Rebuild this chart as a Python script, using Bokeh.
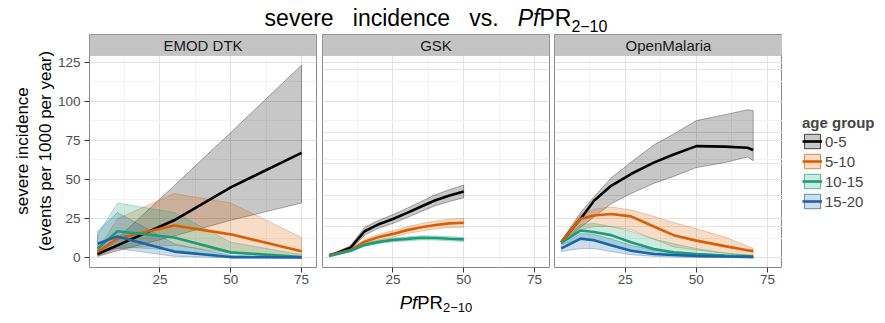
from bokeh.plotting import figure
from bokeh.layouts import row, column
from bokeh.models import (FixedTicker, BoxAnnotation, Label, Legend, LegendItem,
                          Range1d, Grid)
from bokeh.embed import file_html
from bokeh.resources import INLINE

# ---------------- data ----------------
AGE_GROUPS = ["0-5", "5-10", "10-15", "15-20"]
COLORS = ["#000000", "#D95F02", "#1B9E77", "#1C64AA"]
PANELS = ["EMOD DTK", "GSK", "OpenMalaria"]
X_TICKS = [25, 50, 75]
Y_TICKS = [0, 25, 50, 75, 100, 125]

EMOD_X = [3, 10, 30, 50, 75]
EMOD_0_5 = [2.5, 8, 24, 45, 67]
EMOD_0_5_LO = [1, 4.5, 14, 24, 35]
EMOD_0_5_HI = [3.5, 12.5, 46, 80, 123]
EMOD_5_10 = [4, 12.3, 20.7, 15, 4.2]
EMOD_5_10_LO = [1, 6, 8, 3, 0.5]
EMOD_5_10_HI = [5, 25, 41, 35, 13]
EMOD_10_15 = [6, 17, 13, 3.5, 0.5]
EMOD_10_15_LO = [2, 7, 5, 0.5, 0]
EMOD_10_15_HI = [15, 35, 29, 10, 2]
EMOD_15_20 = [9, 13.7, 4, 0.5, 0.3]
EMOD_15_20_LO = [4, 6, 1, 0, 0]
EMOD_15_20_HI = [17, 29, 9, 1.5, 0.8]

GSK_X = [2.5, 5, 10, 15, 20, 25, 30, 35, 40, 45, 50]
GSK_0_5 = [1.7, 3, 6.5, 17, 21.5, 24.8, 28.7, 32.8, 36.8, 39.8, 42.4]
GSK_0_5_LO = [1.2, 2.3, 5.3, 14.5, 19, 22, 25.7, 29.6, 33.3, 36, 38.4]
GSK_0_5_HI = [2.2, 3.7, 7.7, 19.5, 24, 27.6, 31.7, 36, 40.3, 43.6, 46.4]
GSK_5_10 = [1.7, 2.8, 5, 10.3, 13.3, 15.3, 17.7, 19.5, 21, 22, 22.4]
GSK_5_10_LO = [1.3, 2.3, 4.2, 8.8, 11.5, 13.3, 15.5, 17.1, 18.5, 19.3, 19.6]
GSK_5_10_HI = [2.1, 3.3, 5.8, 11.8, 15.1, 17.3, 19.9, 21.9, 23.5, 24.7, 25.2]
GSK_10_15 = [1.2, 2.3, 4.5, 8.3, 10.2, 11.5, 12.1, 12.8, 12.7, 12.2, 11.8]
GSK_10_15_LO = [0.9, 1.9, 3.9, 7.3, 9.1, 10.3, 10.8, 11.5, 11.4, 10.9, 10.5]
GSK_10_15_HI = [1.5, 2.7, 5.1, 9.3, 11.3, 12.7, 13.4, 14.1, 14, 13.5, 13.1]

OM_X = [2.5, 9.3, 14, 20, 27, 35, 42, 50, 60, 68, 70]
OM_0_5 = [10, 25, 36.5, 46, 53.5, 60.8, 66, 71.3, 71, 70.3, 68.8]
OM_0_5_LO = [9, 19.6, 26, 34.5, 41, 47.5, 52, 57.6, 60.8, 64.4, 62]
OM_0_5_HI = [11, 29, 39, 51, 61, 72, 79, 87.6, 91.4, 94.5, 94]
OM_5_10 = [10, 25, 27, 28, 26.5, 20, 14.5, 11, 7.5, 4.8, 4.3]
OM_5_10_LO = [9, 18, 20, 20, 18, 12, 7, 5, 3, 2, 2]
OM_5_10_HI = [10.5, 27.5, 31, 32.5, 30.5, 26.5, 22.5, 18.6, 13.3, 7.5, 6]
OM_10_15 = [9.5, 17.5, 16.5, 14.5, 10, 5.7, 3.5, 2.4, 1.5, 1, 0.8]
OM_10_15_LO = [8.5, 12, 11, 8, 5, 2.5, 1.5, 1, 0.5, 0.3, 0.3]
OM_10_15_HI = [10.5, 21, 22, 20, 17, 12, 9, 6, 3, 1.8, 1.5]
OM_15_20 = [6, 12.3, 11.2, 8, 4.5, 2.5, 1.8, 1.3, 0.9, 0.6, 0.5]
OM_15_20_LO = [4, 6, 6, 4, 2, 1, 0.5, 0.3, 0.2, 0.1, 0.1]
OM_15_20_HI = [8, 15.5, 15, 12, 8, 5, 3.5, 2.5, 1.5, 1, 1]

SERIES = {
    "EMOD DTK": (EMOD_X, [(EMOD_0_5, EMOD_0_5_LO, EMOD_0_5_HI),
                          (EMOD_5_10, EMOD_5_10_LO, EMOD_5_10_HI),
                          (EMOD_10_15, EMOD_10_15_LO, EMOD_10_15_HI),
                          (EMOD_15_20, EMOD_15_20_LO, EMOD_15_20_HI)]),
    "GSK": (GSK_X, [(GSK_0_5, GSK_0_5_LO, GSK_0_5_HI),
                    (GSK_5_10, GSK_5_10_LO, GSK_5_10_HI),
                    (GSK_10_15, GSK_10_15_LO, GSK_10_15_HI),
                    None]),
    "OpenMalaria": (OM_X, [(OM_0_5, OM_0_5_LO, OM_0_5_HI),
                           (OM_5_10, OM_5_10_LO, OM_5_10_HI),
                           (OM_10_15, OM_10_15_LO, OM_10_15_HI),
                           (OM_15_20, OM_15_20_LO, OM_15_20_HI)]),
}

# ---------------- layout constants ----------------
FONT = "Liberation Sans"
W = 885
TITLE_H = 34            # page px above the panels
PANEL_H = 256           # panel figures: page y 34 .. 290
FRAME_H = 233           # frame: page y 34 .. 267
XTITLE_H = 323 - TITLE_H - PANEL_H
STRIP_PX = 21
X_LO, X_HI = 0.1, 80.3
Y_LO, Y_HI = -6.15, 129.15
PPU = (FRAME_H - STRIP_PX) / (Y_HI - Y_LO)
Y_END = Y_HI + STRIP_PX / PPU
BASELINE_FIX = 0.28     # svg alphabetic baseline correction (fraction of font size)
NB = "\u00a0"

ADV = {'s': .5, 'e': .556, 'v': .5, 'r': .333, 'i': .222, 'n': .556, 'c': .5,
       'd': .556, '.': .278, ' ': .278, NB: .278, 'P': .667, 'f': .278, 'R': .722,
       '2': .556, '1': .556, '0': .556, '\u2212': .584}


def tw(s, size):
    return sum(ADV[c] for c in s) * size


def hide_grids(f):
    for g in f.select(type=Grid):
        g.visible = False


def blank_fig(width, height, y_top, y_bottom, x_range=None, y_range=None, **kw):
    f = figure(width=width, height=height, output_backend="svg", toolbar_location=None,
               tools="", x_range=x_range or Range1d(0, width),
               y_range=y_range or Range1d(y_bottom, y_top),
               x_axis_location=None, y_axis_location=None, **kw)
    f.title.visible = False
    f.outline_line_color = None
    f.background_fill_color = "white"
    f.border_fill_color = "white"
    hide_grids(f)
    return f


def make_panel(name, width, left, right, first):
    p = figure(width=width, height=PANEL_H, output_backend="svg", toolbar_location=None,
               tools="", x_range=Range1d(X_LO, X_HI), y_range=Range1d(Y_LO, Y_END),
               min_border_left=left, min_border_right=right,
               min_border_top=0, min_border_bottom=PANEL_H - FRAME_H,
               y_axis_location="left" if first else None)
    p.title.visible = False
    p.background_fill_color = "white"
    p.border_fill_color = "white"
    p.outline_line_color = "#8a8a8a"
    p.outline_line_width = 1

    xa = p.xaxis[0]
    xa.ticker = FixedTicker(ticks=X_TICKS, minor_ticks=[12.5, 37.5, 62.5])
    xa.axis_line_color = None
    xa.major_tick_in = 0
    xa.major_tick_out = 5
    xa.minor_tick_out = 0
    xa.minor_tick_in = 0
    xa.major_tick_line_color = "#333333"
    xa.major_label_text_font = FONT
    xa.major_label_text_font_size = "13.5px"
    xa.major_label_text_color = "#4d4d4d"
    xa.major_label_standoff = 2
    p.xgrid.grid_line_color = "#e2e2e2"
    p.xgrid.minor_grid_line_color = "#f3f3f3"

    ygrid = Grid(dimension=1, ticker=FixedTicker(ticks=Y_TICKS,
                                                 minor_ticks=[12.5, 37.5, 62.5, 87.5, 112.5]))
    ygrid.grid_line_color = "#e2e2e2"
    ygrid.minor_grid_line_color = "#f3f3f3"
    p.add_layout(ygrid)

    if first:
        ya = p.yaxis[0]
        ya.ticker = FixedTicker(ticks=Y_TICKS)
        ya.axis_line_color = None
        ya.major_tick_in = 0
        ya.major_tick_out = 5
        ya.minor_tick_out = 0
        ya.minor_tick_in = 0
        ya.major_tick_line_color = "#333333"
        ya.major_label_text_font = FONT
        ya.major_label_text_font_size = "13.5px"
        ya.major_label_text_color = "#4d4d4d"
        ya.major_label_standoff = 4
        ya.axis_label = "severe incidence\n(events per 1000 per year)"
        ya.axis_label_text_font = FONT
        ya.axis_label_text_font_size = "17px"
        ya.axis_label_text_font_style = "normal"
        ya.axis_label_text_color = "#000000"
        ya.axis_label_standoff = 0

    xs, groups = SERIES[name]
    for g, col in zip(groups, COLORS):
        if g is None:
            continue
        mid, lo, hi = g
        p.patch(list(xs) + list(xs)[::-1], list(hi) + list(lo)[::-1],
                fill_color=col, fill_alpha=0.22, line_color=col,
                line_alpha=0.45, line_width=0.7)
    for g, col in zip(groups, COLORS):
        if g is None:
            continue
        mid, lo, hi = g
        p.line(xs, mid, line_color=col, line_width=2.6)

    strip = BoxAnnotation(bottom=Y_HI, fill_color="#c4c4c4", fill_alpha=1,
                          line_color="#8a8a8a", line_width=1, level="overlay")
    p.add_layout(strip)
    p.add_layout(Label(x=(X_LO + X_HI) / 2, y=Y_END - (STRIP_PX / 2 + 0.5) / PPU,
                       text=name, text_font=FONT, text_font_size="15px",
                       text_color="#1a1a1a", text_align="center",
                       text_baseline="middle", level="overlay"))
    return p


p1 = make_panel("EMOD DTK", 319, 89, 3, True)
p2 = make_panel("GSK", 232, 3, 2, False)
p3 = make_panel("OpenMalaria", 231, 3, 0, False)

# legend figure (right of the panels); its key renderers lie outside its view
LEG_W = W - 319 - 232 - 231
leg = blank_fig(LEG_W, PANEL_H, 0, 1, x_range=Range1d(-20, -10), y_range=Range1d(0, 1),
                min_border_left=20, min_border_right=0, min_border_top=0,
                min_border_bottom=PANEL_H - FRAME_H)
_, om_groups = SERIES["OpenMalaria"]
items = []
for a, col, g in zip(AGE_GROUPS, COLORS, om_groups):
    mid, lo, hi = g
    rb = leg.patch(list(OM_X) + list(OM_X)[::-1], list(hi) + list(lo)[::-1],
                   fill_color=col, fill_alpha=0.22, line_color=col,
                   line_alpha=0.7, line_width=1)
    rl = leg.line(OM_X, mid, line_color=col, line_width=2.6)
    items.append(LegendItem(label=a, renderers=[rb, rl]))
legend = Legend(items=items, title="age group", location=(0, 57),
                title_text_font=FONT, title_text_font_size="15px",
                title_text_font_style="bold", title_standoff=1,
                label_text_font=FONT, label_text_font_size="15px",
                glyph_width=20, glyph_height=18, label_standoff=3, spacing=2,
                padding=2, margin=0, border_line_color=None,
                background_fill_alpha=0)
leg.add_layout(legend)

# title figures: data coords are page pixels
tfig = blank_fig(W, TITLE_H, 0, TITLE_H, min_border_left=0, min_border_right=0,
                 min_border_top=0, min_border_bottom=0)
xfig = blank_fig(W, XTITLE_H, TITLE_H + PANEL_H, 323, min_border_left=0,
                 min_border_right=0, min_border_top=0, min_border_bottom=0)


def compose(f, pieces, cx, base):
    total = sum(tw(t, s) for t, s, st, dy in pieces)
    x = cx - total / 2
    for t, s, st, dy in pieces:
        f.add_layout(Label(x=x, y=base + dy - BASELINE_FIX * s, text=t,
                           text_font=FONT, text_font_size=f"{s}px",
                           text_font_style=st, text_color="#000000",
                           text_align="left", text_baseline="alphabetic"))
        x += tw(t, s)


CX = 319 + 3 + 227 / 2
GAP = NB * 3
compose(tfig, [("severe" + GAP + "incidence" + GAP + "vs." + GAP, 23, "normal", 0),
               ("Pf", 23, "italic", 0),
               ("PR", 23, "normal", 0),
               ("2\u221210", 16, "normal", 6)], CX, 23.5)
compose(xfig, [("Pf", 18.5, "italic", 0),
               ("PR", 18.5, "normal", 0),
               ("2\u221210", 13, "normal", 4)], CX, 307)

layout = column(tfig, row(p1, p2, p3, leg), xfig)
open("out.html", "w").write(file_html(layout, INLINE))
